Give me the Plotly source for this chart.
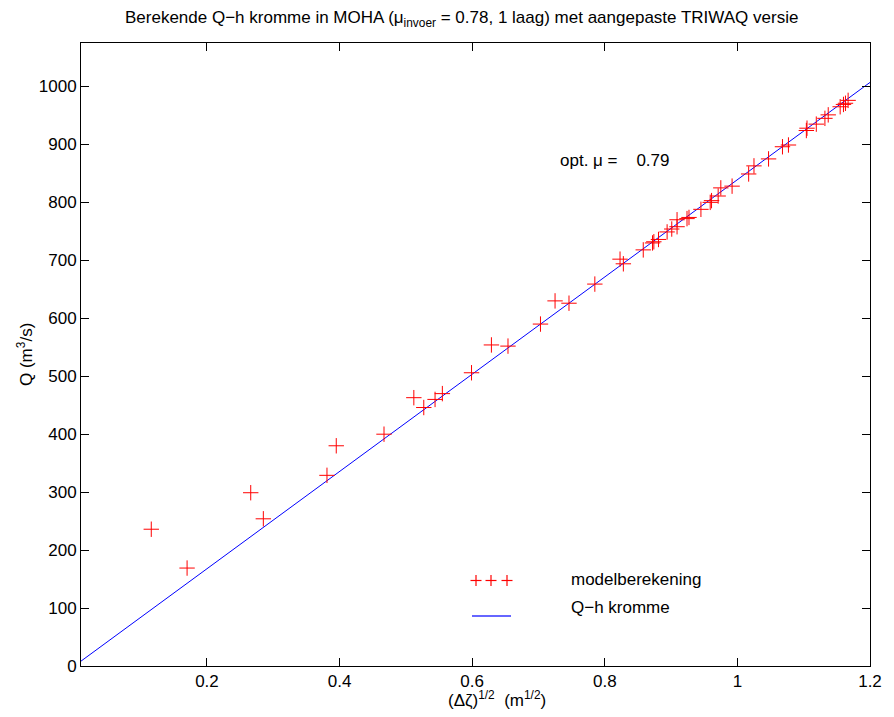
import plotly.graph_objects as go

# --- data ---
model_x = [0.116, 0.170, 0.266, 0.285, 0.381, 0.395, 0.467, 0.512, 0.527, 0.544,
           0.555, 0.599, 0.629, 0.654, 0.703, 0.725, 0.746, 0.785, 0.823, 0.828,
           0.858, 0.872, 0.874, 0.881, 0.894, 0.901, 0.909, 0.909, 0.924, 0.927,
           0.945, 0.959, 0.961, 0.971, 0.975, 0.992, 1.017, 1.025, 1.047, 1.068,
           1.077, 1.104, 1.105, 1.119, 1.132, 1.137, 1.155, 1.160, 1.163, 1.167]
model_q = [236, 169, 299, 254, 329, 380, 400, 463, 446, 460,
           470, 506, 554, 552, 590, 630, 626, 659, 702, 694,
           718, 730, 732, 736, 749, 754, 758, 770, 772, 774,
           788, 800, 803, 811, 825, 828, 849, 863, 875, 896,
           899, 924, 928, 935, 945, 951, 965, 969, 971, 976]

curve_x = [0.01, 1.2]
curve_q = [8.4, 1007]

x_ticks = [0.2, 0.4, 0.6, 0.8, 1.0, 1.2]
x_ticklabels = ["0.2", "0.4", "0.6", "0.8", "1", "1.2"]
y_ticks = list(range(0, 1001, 100))

FONT = "Liberation Sans, Arial, Helvetica, sans-serif"
FS = 17

fig = go.Figure()
fig.add_trace(go.Scatter(x=curve_x, y=curve_q, mode="lines",
                         line=dict(color="#0000ff", width=1),
                         name="Q\u2212h kromme", showlegend=False))
fig.add_trace(go.Scatter(x=model_x, y=model_q, mode="markers",
                         marker=dict(symbol="cross-thin-open", size=11,
                                     line=dict(color="#ff0000", width=1),
                                     color="#ff0000"),
                         name="modelberekening", showlegend=False))

W, H = 894, 717
L, R, T, B = 81, 24, 43, 51
pw, ph = W - L - R, H - T - B

def px(xp):
    return (xp - L) / pw

def py(yp):
    return (H - B - yp) / ph

shapes = []
# legend sample: three crosses
for cx in [476, 491, 507]:
    cy = 580.5
    shapes.append(dict(type="line", xref="paper", yref="paper",
                       x0=px(cx - 5.5), x1=px(cx + 5.5), y0=py(cy), y1=py(cy),
                       line=dict(color="#ff0000", width=1.2)))
    shapes.append(dict(type="line", xref="paper", yref="paper",
                       x0=px(cx), x1=px(cx), y0=py(cy - 5.5), y1=py(cy + 5.5),
                       line=dict(color="#ff0000", width=1.2)))
shapes.append(dict(type="line", xref="paper", yref="paper",
                   x0=px(472), x1=px(511), y0=py(616), y1=py(616),
                   line=dict(color="#3333ff", width=1.3)))

annotations = [
    dict(text="modelberekening", xref="paper", yref="paper", x=px(569), y=py(579),
         xanchor="left", yanchor="middle", showarrow=False,
         font=dict(size=FS, color="black", family=FONT)),
    dict(text="Q\u2212h kromme", xref="paper", yref="paper", x=px(569), y=py(607),
         xanchor="left", yanchor="middle", showarrow=False,
         font=dict(size=FS, color="black", family=FONT)),
    dict(text="opt. \u03bc =    0.79", xref="x", yref="y", x=0.73, y=873,
         xanchor="left", yanchor="middle", showarrow=False,
         font=dict(size=FS, color="black", family=FONT)),
    dict(text="(\u0394\u03b6)<sup>1/2</sup>  (m<sup>1/2</sup>)", xref="paper", yref="paper",
         x=px(497), y=py(699), xanchor="center", yanchor="middle", showarrow=False,
         font=dict(size=FS, color="black", family=FONT)),
    dict(text="Q (m<sup>3</sup>/s)", xref="paper", yref="paper",
         x=px(25), y=py(355), xanchor="center", yanchor="middle", textangle=-90,
         showarrow=False, font=dict(size=FS, color="black", family=FONT)),
    dict(text="Berekende Q\u2212h kromme in MOHA (\u03bc<sub>invoer</sub> = 0.78, 1 laag) met aangepaste TRIWAQ versie",
         xref="paper", yref="paper", x=px(461), y=py(19), xanchor="center", yanchor="middle",
         showarrow=False, font=dict(size=FS, color="black", family=FONT)),
]

fig.update_layout(
    width=W, height=H,
    margin=dict(l=L, r=R, t=T, b=B, pad=0),
    paper_bgcolor="white", plot_bgcolor="white",
    showlegend=False,
    font=dict(family=FONT, size=FS, color="black"),
    shapes=shapes,
    annotations=annotations,
    xaxis=dict(range=[0.01, 1.2], tickvals=x_ticks, ticktext=x_ticklabels,
               ticks="inside", ticklen=8, tickwidth=1, tickcolor="black",
               showline=True, linecolor="black", linewidth=1, mirror="ticks",
               showgrid=False, zeroline=False,
               tickfont=dict(size=FS, color="black", family=FONT)),
    yaxis=dict(range=[0, 1075], tickvals=y_ticks,
               ticks="inside", ticklen=8, tickwidth=1, tickcolor="black",
               showline=True, linecolor="black", linewidth=1, mirror="ticks",
               showgrid=False, zeroline=False,
               tickfont=dict(size=FS, color="black", family=FONT)),
)

fig.write_html("out.html")
